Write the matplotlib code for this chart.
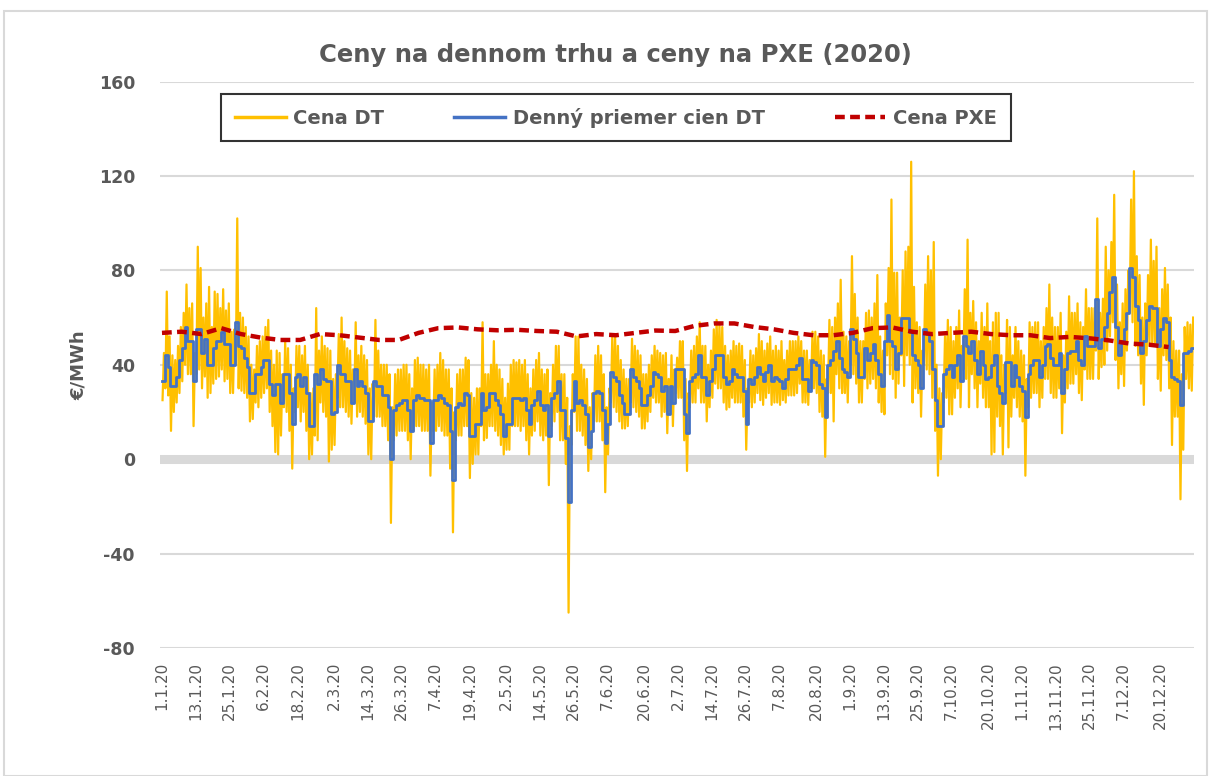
import numpy as np
import pandas as pd
import matplotlib
matplotlib.use("Agg")
import matplotlib.pyplot as plt
from matplotlib.patches import Rectangle
from matplotlib.lines import Line2D

# daily average day-ahead price (EUR/MWh), 1.1.2020 - 31.12.2020
daily_avg = [
    33, 44, 39, 31, 31, 35, 42, 47, 56, 50,
    50, 33, 55, 55, 45, 51, 40, 40, 47, 50,
    50, 54, 49, 49, 40, 40, 58, 48, 47, 43,
    39, 28, 28, 36, 36, 39, 42, 42, 32, 27,
    32, 32, 24, 36, 36, 28, 15, 35, 36, 31,
    35, 28, 14, 14, 36, 32, 38, 34, 33, 33,
    19, 20, 40, 36, 36, 33, 33, 24, 38, 31,
    33, 31, 28, 16, 16, 33, 31, 31, 27, 27,
    22, 0, 21, 23, 24, 25, 25, 21, 12, 25,
    27, 26, 26, 25, 25, 7, 25, 25, 27, 26,
    24, 23, 12, -9, 22, 24, 23, 28, 27, 10,
    10, 15, 15, 28, 21, 22, 28, 28, 25, 23,
    19, 10, 15, 15, 26, 26, 26, 25, 26, 21,
    15, 23, 25, 29, 23, 21, 23, 10, 26, 28,
    33, 21, 21, 9, -18, 21, 33, 24, 25, 23,
    19, 5, 12, 28, 29, 28, 21, 7, 15, 37,
    35, 33, 27, 24, 19, 19, 38, 35, 33, 30,
    23, 23, 27, 31, 37, 36, 35, 29, 31, 19,
    31, 24, 38, 38, 38, 19, 11, 33, 35, 36,
    44, 35, 35, 27, 33, 38, 44, 44, 44, 35,
    32, 33, 38, 36, 35, 35, 29, 15, 34, 32,
    35, 39, 36, 33, 37, 40, 33, 35, 34, 33,
    30, 34, 38, 38, 38, 40, 43, 34, 34, 29,
    42, 41, 40, 32, 30, 18, 40, 42, 46, 50,
    43, 38, 37, 35, 55, 51, 45, 35, 35, 47,
    42, 45, 49, 42, 36, 31, 50, 61, 50, 48,
    38, 45, 60, 60, 60, 54, 44, 42, 40, 30,
    55, 53, 50, 38, 25, 14, 14, 36, 38, 40,
    35, 40, 44, 33, 52, 48, 45, 50, 42, 36,
    46, 40, 34, 35, 40, 44, 31, 28, 24, 41,
    41, 31, 40, 35, 31, 29, 18, 36, 40, 42,
    42, 35, 40, 48, 49, 43, 40, 40, 45, 28,
    38, 45, 46, 46, 50, 42, 40, 52, 48, 48,
    48, 68, 47, 51, 56, 62, 71, 77, 56, 44,
    50, 55, 62, 81, 77, 65, 59, 45, 50, 59,
    65, 64, 64, 48, 55, 60, 58, 42, 35, 34,
    33, 23, 45, 45, 46, 47,
]

# daily maximum of the hourly price
hourly_high = [
    45, 71, 52, 44, 42, 48, 56, 62, 74, 64,
    66, 45, 90, 81, 60, 66, 73, 56, 71, 70,
    64, 72, 63, 66, 54, 55, 102, 62, 60, 56,
    52, 40, 38, 48, 50, 52, 56, 59, 46, 40,
    46, 45, 36, 50, 47, 40, 30, 48, 48, 44,
    48, 40, 28, 30, 64, 46, 52, 48, 47, 46,
    34, 36, 53, 60, 50, 47, 46, 38, 58, 44,
    48, 44, 42, 30, 32, 59, 46, 40, 40, 40,
    36, 22, 36, 38, 38, 40, 40, 36, 30, 42,
    43, 40, 40, 38, 40, 24, 38, 40, 45, 42,
    38, 38, 30, 20, 36, 38, 38, 43, 42, 28,
    26, 30, 30, 58, 36, 36, 40, 50, 40, 38,
    34, 26, 32, 40, 42, 41, 42, 40, 42, 36,
    30, 38, 42, 45, 38, 36, 38, 28, 40, 48,
    48, 36, 36, 26, 14, 36, 52, 52, 40, 38,
    34, 22, 28, 44, 48, 44, 36, 22, 30, 52,
    52, 48, 42, 38, 34, 34, 51, 48, 46, 44,
    36, 36, 40, 44, 48, 46, 45, 44, 45, 34,
    44, 38, 43, 50, 50, 34, 28, 46, 48, 52,
    58, 48, 48, 40, 46, 55, 59, 57, 56, 48,
    44, 46, 50, 48, 49, 48, 42, 30, 46, 44,
    47, 53, 50, 46, 49, 52, 46, 48, 46, 50,
    42, 46, 50, 50, 50, 52, 50, 46, 46, 42,
    54, 54, 52, 46, 44, 34, 59, 56, 60, 66,
    76, 54, 52, 50, 86, 70, 60, 50, 50, 62,
    63, 60, 66, 78, 52, 46, 66, 81, 110, 79,
    79, 60, 80, 88, 90, 126, 73, 58, 56, 46,
    74, 86, 80, 92, 40, 30, 28, 52, 59, 56,
    50, 56, 63, 48, 72, 93, 62, 67, 58, 50,
    62, 56, 66, 50, 58, 62, 62, 44, 40, 59,
    56, 44, 56, 50, 46, 44, 34, 58, 56, 58,
    58, 50, 56, 64, 74, 60, 56, 56, 62, 44,
    54, 69, 62, 62, 66, 58, 56, 72, 64, 64,
    64, 102, 62, 68, 90, 80, 92, 112, 74, 58,
    66, 72, 80, 110, 122, 86, 78, 60, 66, 78,
    93, 84, 90, 64, 72, 81, 74, 60, 50, 46,
    46, 36, 56, 58, 57, 60,
]

# daily minimum of the hourly price
hourly_low = [
    25, 30, 27, 12, 20, 24, 28, 33, 40, 36,
    36, 14, 36, 38, 30, 35, 26, 28, 32, 34,
    35, 38, 33, 34, 28, 28, 40, 30, 29, 28,
    26, 16, 17, 24, 22, 26, 28, 30, 20, 14,
    3, 2, 10, 22, 20, 12, -4, 20, 22, 16,
    20, 12, 0, 2, 10, 8, 24, 20, 18, -1,
    4, 6, 26, 22, 22, 20, 18, 15, 24, 18,
    20, 18, 15, 2, 0, 18, 18, 18, 14, 14,
    8, -27, 8, 10, 12, 12, 12, 8, 0, 12,
    14, 14, 12, 12, 12, -7, 12, 12, 14, 12,
    10, 10, -4, -31, 8, 10, 10, 14, 14, -8,
    -2, 2, 2, 14, 8, 9, 14, 14, 12, 10,
    6, 2, 4, 4, 14, 14, 14, 12, 14, 8,
    2, 10, 12, 16, 10, 8, 10, -11, 14, 16,
    20, 8, 8, -2, -65, 6, 20, 12, 12, 10,
    6, -5, 0, 16, 16, 16, 8, -14, 2, 24,
    22, 20, 16, 13, 13, 14, 24, 22, 20, 18,
    13, 13, 16, 20, 26, 24, 24, 18, 20, 11,
    20, 14, 28, 26, 26, 8, -5, 22, 24, 24,
    30, 24, 24, 16, 22, 26, 32, 30, 30, 24,
    21, 22, 26, 24, 24, 24, 18, 4, 24, 22,
    24, 28, 25, 23, 26, 28, 23, 24, 24, 23,
    25, 24, 27, 27, 27, 28, 32, 24, 24, 23,
    30, 30, 28, 20, 18, 1, 28, 28, 16, 36,
    30, 28, 28, 24, 40, 36, 32, 24, 24, 34,
    30, 32, 34, 30, 24, 20, 19, 44, 36, 34,
    26, 32, 44, 31, 44, 40, 24, 30, 28, 18,
    40, 38, 36, 26, 12, -7, 0, 24, 26, 19,
    19, 26, 30, 22, 38, 34, 22, 36, 30, 22,
    32, 26, 22, 22, 2, 3, 18, 14, 2, 28,
    5, 18, 26, 22, 18, 16, -7, 22, 26, 28,
    28, 22, 26, 34, 34, 28, 26, 26, 30, 11,
    24, 30, 32, 32, 36, 28, 25, 38, 34, 34,
    34, 46, 34, 39, 40, 46, 52, 58, 42, 30,
    36, 31, 46, 62, 58, 48, 44, 32, 23, 44,
    48, 48, 48, 34, 29, 44, 42, 30, 6, 18,
    18, -17, 4, 34, 30, 29,
]

# weekly PXE price (EUR/MWh)
pxe_weekly = [
    53.5, 54, 53, 55.5, 53, 51.5, 50.5, 50.5, 53, 52.5,
    51.5, 50.5, 50.5, 53.5, 55.5, 55.8, 55, 54.6, 54.8, 54.3,
    54, 52, 53, 52.5, 53.5, 54.5, 54.3, 56.5, 57.5, 57.5,
    56, 55, 53.5, 52.5, 52.5, 53.5, 55.5, 55.8, 54, 53,
    53.5, 54, 53, 52.5, 52.5, 51.3, 51.8, 51.2, 50.3, 49,
    48.5, 47.5,
]

tick_labels = [
    "1.1.20", "13.1.20", "25.1.20", "6.2.20", "18.2.20", "2.3.20",
    "14.3.20", "26.3.20", "7.4.20", "19.4.20", "2.5.20", "14.5.20",
    "26.5.20", "7.6.20", "20.6.20", "2.7.20", "14.7.20", "26.7.20",
    "7.8.20", "20.8.20", "1.9.20", "13.9.20", "25.9.20", "7.10.20",
    "20.10.20", "1.11.20", "13.11.20", "25.11.20", "7.12.20", "20.12.20",
]

GRAY = "#595959"
GRID = "#d9d9d9"
YELLOW = "#FFC000"
BLUE = "#4472C4"
RED = "#C00000"

plt.rcParams["font.family"] = ["DejaVu Sans"]
plt.rcParams["axes.unicode_minus"] = False

fig = plt.figure(figsize=(12.13, 7.76), dpi=100)
ax = fig.add_axes([160 / 1213, 1 - 648 / 776, (1194 - 160) / 1213, (648 - 81.5) / 776])

# outer chart border
fig.patches.append(Rectangle((4 / 1213, 0), 1203 / 1213, 1 - 11 / 776,
                             transform=fig.transFigure, fill=False,
                             edgecolor=GRID, lw=1.5))

days = np.arange(len(daily_avg))

# hourly price as daily low/high swing
yx = np.column_stack([days + 0.2, days + 0.7]).ravel()
yv = np.column_stack([hourly_low, hourly_high]).ravel()
ax.plot(yx, yv, color=YELLOW, lw=1.6, zorder=2)

# daily average as steps
bx = np.append(days, len(daily_avg))
bv = np.append(daily_avg, daily_avg[-1])
ax.plot(bx, bv, drawstyle="steps-post", color=BLUE, lw=2.0, zorder=3)

# PXE price
px = np.arange(len(pxe_weekly)) * 7
ax.plot(px, pxe_weekly, color=RED, lw=3.2, ls=(0, (2.2, 1.2)), zorder=4)

# axes styling
ax.set_ylim(-80, 160)
ax.set_yticks(np.arange(-80, 161, 40))
ax.set_xlim(-0.7, 366)
tick_days = (pd.to_datetime(tick_labels, format="%d.%m.%y") - pd.Timestamp("2020-01-01")).days
ax.set_xticks(tick_days)
ax.set_xticklabels(tick_labels, rotation=90, fontsize=11, color=GRAY)
ax.tick_params(axis="both", length=0)
ax.tick_params(axis="x", pad=10)
ax.tick_params(axis="y", pad=18)
for lab in ax.get_yticklabels():
    lab.set_fontweight("bold")
    lab.set_fontsize(12.5)
    lab.set_color(GRAY)

ax.grid(axis="y", color=GRID, lw=1.5)
ax.set_axisbelow(True)
ax.axhline(0, color=GRID, lw=6.5, zorder=1)
for s in ax.spines.values():
    s.set_visible(False)

ax.set_ylabel("€/MWh", fontsize=13, fontweight="bold", color=GRAY, labelpad=8)

fig.text(0.507, 1 - 55 / 776, "Ceny na dennom trhu a ceny na PXE (2020)",
         ha="center", va="center", fontsize=17.5, fontweight="bold", color=GRAY)

handles = [
    Line2D([], [], color=YELLOW, lw=2.5),
    Line2D([], [], color=BLUE, lw=2.5),
    Line2D([], [], color=RED, lw=3.2, ls=(0, (2.2, 1.2))),
]
leg = fig.legend(handles, ["Cena DT", "Denný priemer cien DT", "Cena PXE"],
                 loc="center", bbox_to_anchor=(616 / 1213, 1 - 117.5 / 776),
                 ncol=3, frameon=True, fancybox=False,
                 handlelength=2.6, handletextpad=0.4, columnspacing=3.6,
                 borderpad=0.7, borderaxespad=0.0,
                 prop={"weight": "bold", "size": 14})
leg.get_frame().set_edgecolor("black")
leg.get_frame().set_linewidth(1.5)
for t in leg.get_texts():
    t.set_color(GRAY)

fig.savefig("out.png", dpi=100)
